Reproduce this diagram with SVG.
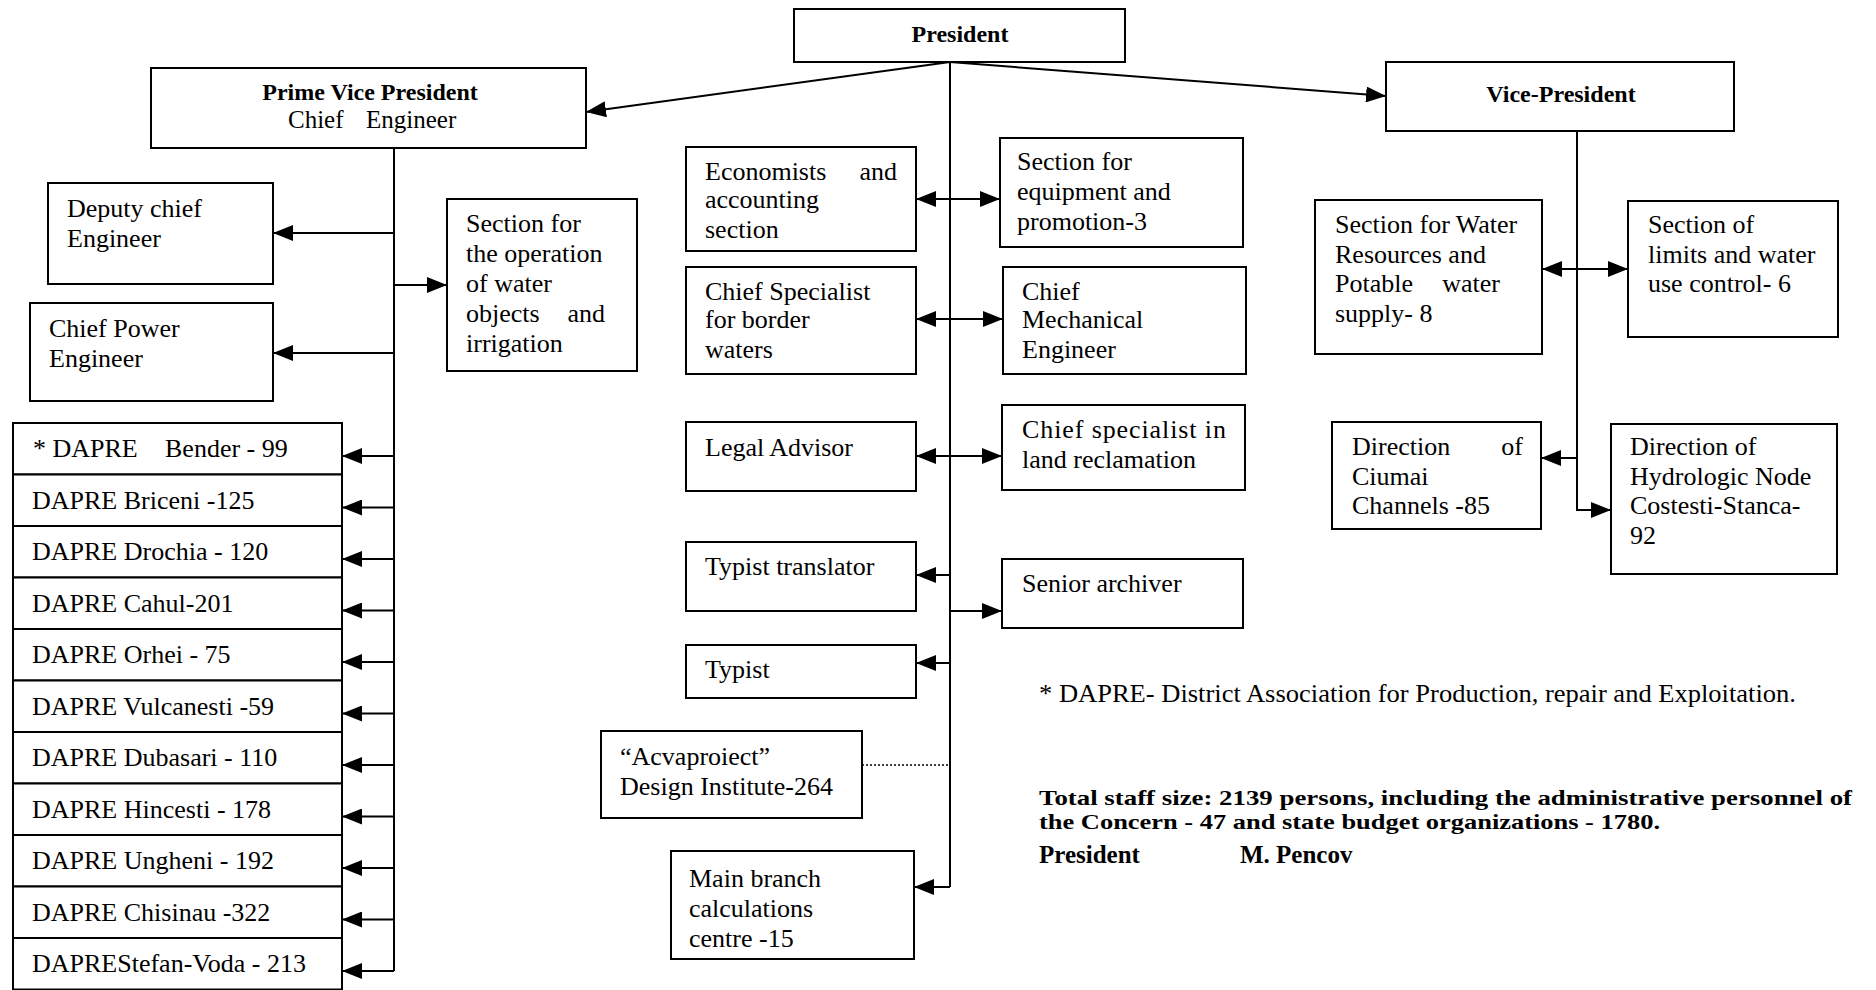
<svg xmlns="http://www.w3.org/2000/svg" width="1876" height="990" viewBox="0 0 1876 990">
<defs>
<style>
.box{fill:#fff;stroke:#000;stroke-width:2}
.t{font-family:"Liberation Serif","Times New Roman",serif;font-size:26px;fill:#000}
.b{font-weight:bold;font-size:24px}
.c{text-anchor:middle}
.ln{fill:none;stroke:#000;stroke-width:2}
.dot{fill:none;stroke:#000;stroke-width:1.3;stroke-dasharray:2 2}
.note{font-family:"Liberation Serif","Times New Roman",serif;font-size:25px;fill:#000}
.tight{font-size:21.5px;font-weight:bold}
</style>
<marker id="ah" viewBox="0 0 20 16" refX="20" refY="8" markerWidth="20" markerHeight="16" markerUnits="userSpaceOnUse" orient="auto-start-reverse">
<path d="M0,0 L20,8 L0,16 z" fill="#000"/>
</marker>
</defs>
<rect width="1876" height="990" fill="#fff"/>

<g id="connectors">
<line class="ln" x1="950" y1="62" x2="586" y2="112" marker-end="url(#ah)"/>
<line class="ln" x1="950" y1="62" x2="1386" y2="96" marker-end="url(#ah)"/>
<line class="ln" x1="950" y1="62" x2="950" y2="887"/>
<line class="ln" x1="916" y1="199" x2="1000" y2="199" marker-start="url(#ah)" marker-end="url(#ah)"/>
<line class="ln" x1="916" y1="319" x2="1003" y2="319" marker-start="url(#ah)" marker-end="url(#ah)"/>
<line class="ln" x1="916" y1="456" x2="1002" y2="456" marker-start="url(#ah)" marker-end="url(#ah)"/>
<line class="ln" x1="950" y1="575" x2="916" y2="575" marker-end="url(#ah)"/>
<line class="ln" x1="950" y1="611" x2="1002" y2="611" marker-end="url(#ah)"/>
<line class="ln" x1="950" y1="663" x2="916" y2="663" marker-end="url(#ah)"/>
<line class="dot" x1="862" y1="765" x2="950" y2="765"/>
<line class="ln" x1="950" y1="887" x2="914" y2="887" marker-end="url(#ah)"/>
<line class="ln" x1="394" y1="148" x2="394" y2="971"/>
<line class="ln" x1="394" y1="233" x2="273" y2="233" marker-end="url(#ah)"/>
<line class="ln" x1="394" y1="353" x2="273" y2="353" marker-end="url(#ah)"/>
<line class="ln" x1="394" y1="285" x2="447" y2="285" marker-end="url(#ah)"/>
<line class="ln" x1="394" y1="456" x2="342" y2="456" marker-end="url(#ah)"/>
<line class="ln" x1="394" y1="507.5" x2="342" y2="507.5" marker-end="url(#ah)"/>
<line class="ln" x1="394" y1="559" x2="342" y2="559" marker-end="url(#ah)"/>
<line class="ln" x1="394" y1="610.5" x2="342" y2="610.5" marker-end="url(#ah)"/>
<line class="ln" x1="394" y1="662" x2="342" y2="662" marker-end="url(#ah)"/>
<line class="ln" x1="394" y1="713.5" x2="342" y2="713.5" marker-end="url(#ah)"/>
<line class="ln" x1="394" y1="765" x2="342" y2="765" marker-end="url(#ah)"/>
<line class="ln" x1="394" y1="816.5" x2="342" y2="816.5" marker-end="url(#ah)"/>
<line class="ln" x1="394" y1="868" x2="342" y2="868" marker-end="url(#ah)"/>
<line class="ln" x1="394" y1="919.5" x2="342" y2="919.5" marker-end="url(#ah)"/>
<line class="ln" x1="394" y1="971" x2="342" y2="971" marker-end="url(#ah)"/>
<polyline class="ln" points="1577,131 1577,510 1611,510" marker-end="url(#ah)"/>
<line class="ln" x1="1542" y1="269" x2="1628" y2="269" marker-start="url(#ah)" marker-end="url(#ah)"/>
<line class="ln" x1="1577" y1="458" x2="1541" y2="458" marker-end="url(#ah)"/>
</g>

<g id="president"><rect class="box" x="794" y="9" width="331" height="53"/><text class="t b c" x="960" y="42">President</text></g>
<g id="prime-vice-president"><rect class="box" x="151" y="68" width="435" height="80"/><text class="t b c" x="370" y="100">Prime Vice President</text><text class="t" x="288" y="128" style="font-size:25px">Chief</text><text class="t" x="366" y="128" style="font-size:25px">Engineer</text></g>
<g id="vice-president"><rect class="box" x="1386" y="62" width="348" height="69"/><text class="t b c" x="1561" y="102">Vice-President</text></g>

<g id="deputy-chief"><rect class="box" x="48" y="183" width="225" height="101"/><text class="t" x="67" y="217">Deputy chief</text><text class="t" x="67" y="247">Engineer</text></g>
<g id="chief-power"><rect class="box" x="30" y="303" width="243" height="98"/><text class="t" x="49" y="337">Chief Power</text><text class="t" x="49" y="367">Engineer</text></g>
<g id="section-operation"><rect class="box" x="447" y="199" width="190" height="172"/><text class="t" x="466" y="232">Section for</text><text class="t" x="466" y="262">the operation</text><text class="t" x="466" y="292">of water</text><text class="t" x="466" y="322">objects</text><text class="t" x="605" y="322" text-anchor="end">and</text><text class="t" x="466" y="352">irrigation</text></g>

<g id="economists"><rect class="box" x="686" y="147" width="230" height="104"/><text class="t" x="705" y="180">Economists</text><text class="t" x="897" y="180" text-anchor="end">and</text><text class="t" x="705" y="208">accounting</text><text class="t" x="705" y="238">section</text></g>
<g id="section-equipment"><rect class="box" x="1000" y="138" width="243" height="109"/><text class="t" x="1017" y="170">Section for</text><text class="t" x="1017" y="200">equipment and</text><text class="t" x="1017" y="230">promotion-3</text></g>
<g id="chief-specialist-border"><rect class="box" x="686" y="267" width="230" height="107"/><text class="t" x="705" y="300">Chief Specialist</text><text class="t" x="705" y="328">for border</text><text class="t" x="705" y="358">waters</text></g>
<g id="chief-mechanical"><rect class="box" x="1003" y="267" width="243" height="107"/><text class="t" x="1022" y="300">Chief</text><text class="t" x="1022" y="328">Mechanical</text><text class="t" x="1022" y="358">Engineer</text></g>
<g id="legal-advisor"><rect class="box" x="686" y="422" width="230" height="69"/><text class="t" x="705" y="456">Legal Advisor</text></g>
<g id="chief-specialist-land"><rect class="box" x="1002" y="405" width="243" height="85"/><text class="t" x="1022" y="438" textLength="204" lengthAdjust="spacing">Chief specialist in</text><text class="t" x="1022" y="468">land reclamation</text></g>
<g id="typist-translator"><rect class="box" x="686" y="542" width="230" height="69"/><text class="t" x="705" y="575">Typist translator</text></g>
<g id="senior-archiver"><rect class="box" x="1002" y="559" width="241" height="69"/><text class="t" x="1022" y="592">Senior archiver</text></g>
<g id="typist"><rect class="box" x="686" y="645" width="230" height="53"/><text class="t" x="705" y="678">Typist</text></g>
<g id="acvaproiect"><rect class="box" x="601" y="731" width="261" height="87"/><text class="t" x="620" y="765">“Acvaproiect”</text><text class="t" x="620" y="795">Design Institute-264</text></g>
<g id="main-branch"><rect class="box" x="671" y="851" width="243" height="108"/><text class="t" x="689" y="887">Main branch</text><text class="t" x="689" y="917">calculations</text><text class="t" x="689" y="947">centre -15</text></g>

<g id="section-water"><rect class="box" x="1315" y="200" width="227" height="154"/><text class="t" x="1335" y="233">Section for Water</text><text class="t" x="1335" y="263">Resources and</text><text class="t" x="1335" y="292">Potable</text><text class="t" x="1500" y="292" text-anchor="end">water</text><text class="t" x="1335" y="322">supply- 8</text></g>
<g id="section-limits"><rect class="box" x="1628" y="201" width="210" height="136"/><text class="t" x="1648" y="233">Section of</text><text class="t" x="1648" y="263">limits and water</text><text class="t" x="1648" y="292">use control- 6</text></g>
<g id="direction-ciumai"><rect class="box" x="1332" y="422" width="209" height="107"/><text class="t" x="1352" y="455">Direction</text><text class="t" x="1523" y="455" text-anchor="end">of</text><text class="t" x="1352" y="485">Ciumai</text><text class="t" x="1352" y="514">Channels -85</text></g>
<g id="direction-hydrologic"><rect class="box" x="1611" y="424" width="226" height="150"/><text class="t" x="1630" y="455">Direction of</text><text class="t" x="1630" y="485">Hydrologic Node</text><text class="t" x="1630" y="514">Costesti-Stanca-</text><text class="t" x="1630" y="544">92</text></g>

<g id="dapre-bender"><rect class="box" x="13" y="423" width="329" height="51.5"/><text class="t" x="33" y="457">* DAPRE</text><text class="t" x="165" y="457">Bender - 99</text></g>
<g id="dapre-briceni"><rect class="box" x="13" y="474.5" width="329" height="51.5"/><text class="t" x="32" y="508.5">DAPRE Briceni -125</text></g>
<g id="dapre-drochia"><rect class="box" x="13" y="526" width="329" height="51.5"/><text class="t" x="32" y="560">DAPRE Drochia - 120</text></g>
<g id="dapre-cahul"><rect class="box" x="13" y="577.5" width="329" height="51.5"/><text class="t" x="32" y="611.5">DAPRE Cahul-201</text></g>
<g id="dapre-orhei"><rect class="box" x="13" y="629" width="329" height="51.5"/><text class="t" x="32" y="663">DAPRE Orhei - 75</text></g>
<g id="dapre-vulcanesti"><rect class="box" x="13" y="680.5" width="329" height="51.5"/><text class="t" x="32" y="714.5">DAPRE Vulcanesti -59</text></g>
<g id="dapre-dubasari"><rect class="box" x="13" y="732" width="329" height="51.5"/><text class="t" x="32" y="766">DAPRE Dubasari - 110</text></g>
<g id="dapre-hincesti"><rect class="box" x="13" y="783.5" width="329" height="51.5"/><text class="t" x="32" y="817.5">DAPRE Hincesti - 178</text></g>
<g id="dapre-ungheni"><rect class="box" x="13" y="835" width="329" height="51.5"/><text class="t" x="32" y="869">DAPRE Ungheni - 192</text></g>
<g id="dapre-chisinau"><rect class="box" x="13" y="886.5" width="329" height="51.5"/><text class="t" x="32" y="920.5">DAPRE Chisinau -322</text></g>
<g id="dapre-stefan-voda"><rect class="box" x="13" y="938" width="329" height="51.5"/><text class="t" x="32" y="972">DAPREStefan-Voda - 213</text></g>

<g id="notes">
<text class="note" x="1039" y="702" textLength="757" lengthAdjust="spacingAndGlyphs">* DAPRE- District Association for Production, repair and Exploitation.</text>
<text class="note tight" x="1039" y="805" textLength="813" lengthAdjust="spacingAndGlyphs">Total staff size: 2139 persons, including the administrative personnel of</text>
<text class="note tight" x="1039" y="829" textLength="621" lengthAdjust="spacingAndGlyphs">the Concern - 47 and state budget organizations - 1780.</text>
<text class="note" x="1039" y="863" font-weight="bold">President</text>
<text class="note" x="1240" y="863" font-weight="bold">M. Pencov</text>
</g>
</svg>
